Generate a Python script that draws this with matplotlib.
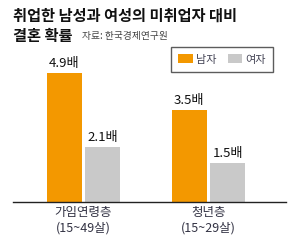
import matplotlib
matplotlib.use("Agg")
import matplotlib.pyplot as plt

plt.rcParams['font.family'] = ['Noto Sans CJK KR', 'DejaVu Sans']

categories = ["가임연령층\n(15~49살)", "청년층\n(15~29살)"]
series_names = ["남자", "여자"]
male = [4.9, 3.5]
female = [2.1, 1.5]
colors = ["#F39800", "#C9C9C9"]

fig = plt.figure(figsize=(2.9, 2.42), dpi=100)
ax = fig.add_axes([13/290, 40/242, 273/290, 152/242])

w = 0.28
off = 0.154
x = list(range(len(categories)))
b1 = ax.bar([i - off for i in x], male, width=w, color=colors[0], label=series_names[0])
b2 = ax.bar([i + off for i in x], female, width=w, color=colors[1], label=series_names[1])

for bars, vals in ((b1, male), (b2, female)):
    for r, v in zip(bars, vals):
        ax.annotate(f"{v}배", (r.get_x() + r.get_width()/2, v), xytext=(0, 2),
                    textcoords="offset points", ha="center", va="bottom",
                    fontsize=9.5, color="#111111")

ax.set_xlim(-0.564, 1.62)
ax.set_ylim(0, 5.78)
ax.set_xticks(x)
ax.set_xticklabels(categories, fontsize=9, color="#333344", linespacing=1.25)
ax.tick_params(axis='x', length=0, pad=3)
ax.set_yticks([])
for s in ("top", "right", "left"):
    ax.spines[s].set_visible(False)
ax.spines["bottom"].set_color("#222222")
ax.spines["bottom"].set_linewidth(1.0)

leg = ax.legend(loc="upper left", bbox_to_anchor=((171-13)/273, 1 + 3/152), ncol=2,
                fontsize=8, frameon=True, fancybox=False, handlelength=1.3,
                handleheight=0.9, columnspacing=1.0, handletextpad=0.3,
                borderpad=0.65, borderaxespad=0)
leg.get_frame().set_edgecolor("#333333")
leg.get_frame().set_linewidth(1.0)
for t in leg.get_texts():
    t.set_color("#444455")

fig.text(13/290, 1 - 16/242, "취업한 남성과 여성의 미취업자 대비", fontsize=11,
         fontweight="bold", va="center", ha="left", color="#111111")
fig.text(13/290, 1 - 36/242, "결혼 확률", fontsize=11,
         fontweight="bold", va="center", ha="left", color="#111111")
fig.text(82/290, 1 - 36/242, "자료: 한국경제연구원", fontsize=7,
         va="center", ha="left", color="#444444")

fig.savefig("out.png", dpi=100)
